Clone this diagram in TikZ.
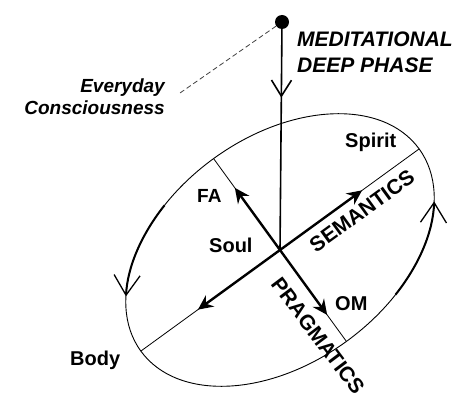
\documentclass[tikz,border=0pt]{standalone}
\usepackage{fontspec}
\setmainfont{Liberation Sans}
\usetikzlibrary{arrows.meta,calc,decorations.markings}
\begin{document}
\begin{tikzpicture}[x=1pt,y=-1pt,
  lbl/.style={font=\fontsize{20}{24}\selectfont\bfseries, inner sep=0pt},
  ilbl/.style={font=\fontsize{21}{25}\selectfont\bfseries\itshape, inner sep=0pt},
  elbl/.style={font=\fontsize{19}{22}\selectfont\bfseries\itshape, inner sep=0pt},
  axisline/.style={line width=0.8pt},
  ellline/.style={line width=0.9pt},
  thickarc/.style={line width=2pt, -{Straight Barb[length=20pt,width=26pt,line width=1.3pt]}},
  bigarrow/.style={line width=2.4pt, -{Stealth[length=15pt,width=14pt,inset=5pt]}},
  vline/.style={line width=1.6pt},
  dashline/.style={line width=0.8pt, dash pattern=on 5pt off 3pt, black!75}]
\useasboundingbox (0,0) rectangle (474,401);

\coordinate (C) at (280,250);
\node[circle, fill=black, inner sep=0pt, minimum size=14pt] (dot) at (282,22) {};
\coordinate (ec) at (180,93);

% ellipse and axis end points
\begin{scope}[shift={(C)}, rotate=36]
  \draw[ellline] (0,0) ellipse [x radius=172pt, y radius=113pt];
  \coordinate (spiritEnd) at (0:172pt and 113pt);
  \coordinate (faEnd) at (90:172pt and 113pt);
  \coordinate (bodyEnd) at (180:172pt and 113pt);
  \coordinate (omEnd) at (270:172pt and 113pt);
  \draw[thickarc] (113:172pt and 113pt) arc[start angle=113, end angle=152, x radius=172pt, y radius=113pt];
  \draw[thickarc] (293:172pt and 113pt) arc[start angle=293, end angle=333, x radius=172pt, y radius=113pt];
\end{scope}

% thin axes
\draw[axisline] (spiritEnd) -- (bodyEnd);
\draw[axisline] (faEnd) -- (omEnd);

% thick arrows
\coordinate (faTip) at ($(C)!0.68!(faEnd)$);
\coordinate (omTip) at ($(C)!0.71!(omEnd)$);
\coordinate (semTip) at ($(C)!0.59!(spiritEnd)$);
\coordinate (bodyTip) at ($(C)!0.59!(bodyEnd)$);
\draw[bigarrow] (C) -- (faTip);
\draw[bigarrow] (C) -- (omTip);
\draw[bigarrow] (C) -- (semTip);
\draw[bigarrow] (C) -- (bodyTip);

% vertical line with mid arrow
\draw[vline, postaction={decorate},
  decoration={markings, mark=at position 0.31 with {\arrow{Straight Barb[length=16pt,width=20pt,line width=1.6pt]}}}]
  (dot) -- (C);
\draw[dashline] (dot) -- (ec);

% labels
\node[ilbl, anchor=base west] (med) at (297,47) {MEDITATIONAL};
\node[ilbl, anchor=base west] (deep) at (297,73) {DEEP PHASE};
\node[elbl, anchor=base east] (every) at (165,93) {Everyday};
\node[elbl, anchor=base east] (consc) at (165,115) {Consciousness};
\node[lbl, anchor=base west] (spirit) at (345,148) {Spirit};
\node[lbl, font=\fontsize{19}{22}\selectfont\bfseries, anchor=base west] (fa) at (197,202) {FA};
\node[lbl, anchor=base west] (soul) at (209,252) {Soul};
\node[lbl, anchor=base west] (om) at (335,310) {OM};
\node[lbl, anchor=base west] (body) at (70,365) {Body};
\node[lbl, font=\fontsize{21}{24}\selectfont\bfseries, rotate=36] (sem) at (362,211) {SEMANTICS};
\node[lbl, font=\fontsize{21}{24}\selectfont\bfseries, rotate=-53] (prag) at (318,336) {PRAGMATICS};
\end{tikzpicture}
\end{document}
